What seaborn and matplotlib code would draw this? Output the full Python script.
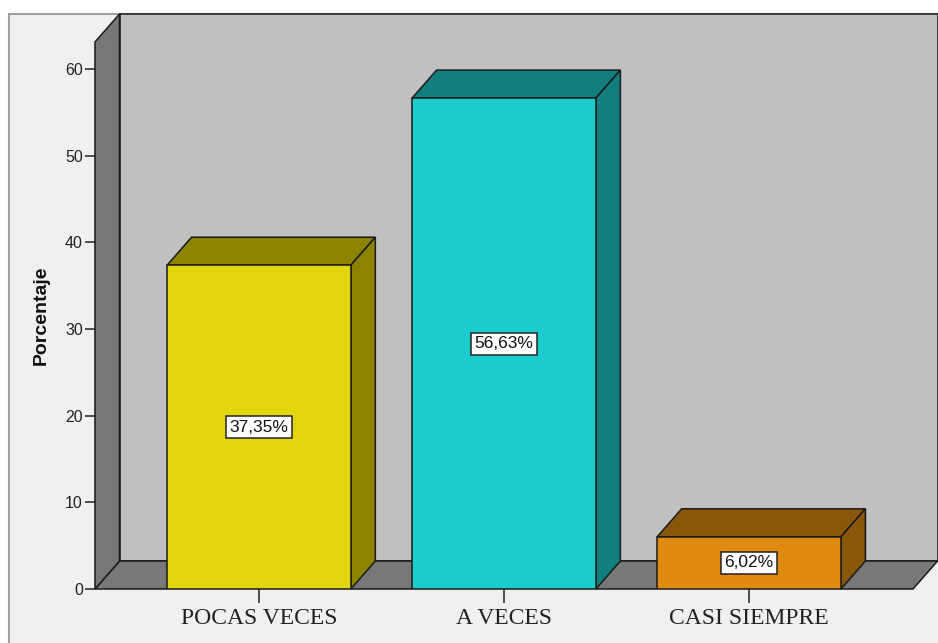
import matplotlib
matplotlib.use("Agg")
import matplotlib.pyplot as plt
import seaborn as sns
from matplotlib.patches import Polygon, Rectangle

# ---- data ----
categories = ["POCAS VECES", "A VECES", "CASI SIEMPRE"]
values = [37.35, 56.63, 6.02]
yticks = [0, 10, 20, 30, 40, 50, 60]
front_colors = ["#E3D60F", "#1DCDCD", "#E18A10"]
dark_colors = ["#8C8400", "#117F7D", "#8A560A"]

sns.set_theme(style="white")
plt.rcParams["font.family"] = ["Liberation Sans", "DejaVu Sans"]

W, H = 938, 643
fig = plt.figure(figsize=(W / 100, H / 100), dpi=100)
fig.patch.set_facecolor("white")

# outer frame
fig.patches.append(Rectangle((9 / W, -0.01), (W - 9) / W + 0.01, 1 - 14 / H + 0.01,
                             transform=fig.transFigure, fc="#F0F0F0", ec="#A0A0A0",
                             lw=1.5, zorder=-10))

ax = fig.add_axes([95 / W, 1 - 589 / H, (913 - 95) / W, (589 - 42) / H])
ax.set_facecolor("none")

sns.barplot(x=categories, y=values, hue=categories, palette=front_colors, legend=False,
            width=0.75, edgecolor="#1a1a1a", linewidth=1.1, saturation=1, ax=ax, zorder=6)

xl, xr = -0.669, 2.669
ymax = 63.1
ax.set_xlim(xl, xr)
ax.set_ylim(0, ymax)
DX, DY = 0.1, 3.23
edge = "#1a1a1a"

# walls
ax.add_patch(Polygon([(xl + DX, DY), (xr + DX, DY), (xr + DX, ymax + DY), (xl + DX, ymax + DY)],
                     closed=True, fc="#C0C0C0", ec=edge, lw=1.1, clip_on=False, zorder=1))
ax.add_patch(Polygon([(xl, 0), (xr, 0), (xr + DX, DY), (xl + DX, DY)],
                     closed=True, fc="#787878", ec=edge, lw=1.1, clip_on=False, zorder=2))
ax.add_patch(Polygon([(xl, 0), (xl + DX, DY), (xl + DX, ymax + DY), (xl, ymax)],
                     closed=True, fc="#787878", ec=edge, lw=1.1, clip_on=False, zorder=2))

# bar depth faces
for bar, dc in zip(ax.patches[:len(values)], dark_colors):
    x0, w, h = bar.get_x(), bar.get_width(), bar.get_height()
    ax.add_patch(Polygon([(x0, h), (x0 + DX, h + DY), (x0 + w + DX, h + DY), (x0 + w, h)],
                         closed=True, fc=dc, ec=edge, lw=1.1, clip_on=False, zorder=5))
    ax.add_patch(Polygon([(x0 + w, 0), (x0 + w + DX, DY), (x0 + w + DX, h + DY), (x0 + w, h)],
                         closed=True, fc=dc, ec=edge, lw=1.1, clip_on=False, zorder=5))

# value labels
for i, v in enumerate(values):
    ax.text(i, v / 2, f"{v:.2f}%".replace(".", ","), ha="center", va="center",
            fontsize=12.5, color="#111111", zorder=8,
            bbox=dict(boxstyle="square,pad=0.2", fc="white", ec="#222222", lw=1.1))

for s in ax.spines.values():
    s.set_visible(False)

ax.set_yticks(yticks)
ax.set_yticklabels([str(t) for t in yticks])
ax.tick_params(axis="y", length=7.2, width=1.1, color="#222222", pad=1.5,
               labelsize=11.5, labelcolor="#222222", left=True)
ax.set_xticks(range(len(categories)))
ax.set_xticklabels(categories, fontfamily="Liberation Serif", fontsize=17)
ax.tick_params(axis="x", length=10, width=1.1, color="#222222", pad=3.5,
               labelcolor="#222222", bottom=True)
ax.set_xlabel("")
ax.set_ylabel("")
ax.text(-0.066, 0.5, "Porcentaje", transform=ax.transAxes, rotation=90,
        ha="center", va="center", fontsize=14, fontweight="bold", color="#111111")

fig.savefig("out.png", dpi=100, facecolor=fig.get_facecolor())
